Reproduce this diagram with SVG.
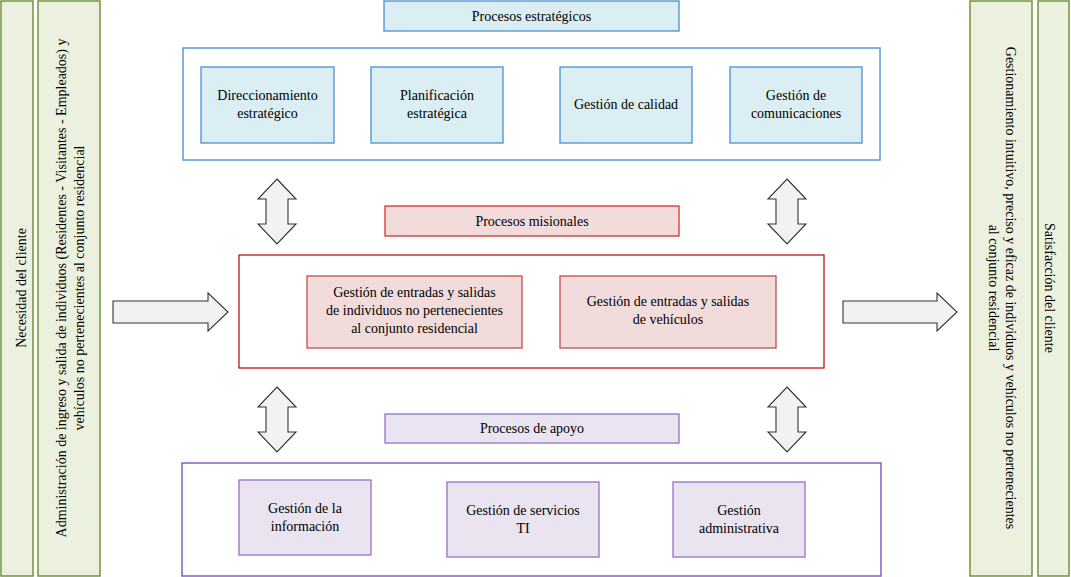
<svg xmlns="http://www.w3.org/2000/svg" width="1071" height="577" viewBox="0 0 1071 577">
<defs>
<style>
.t{font-family:"Liberation Serif",Tinos,"Times New Roman",Times,serif;font-size:14px;fill:#000;text-anchor:middle}
.g{fill:#EBF1DE;stroke:#76923C;stroke-width:1.5}
.bt{fill:#DAEEF3;stroke:#4A90D0;stroke-width:1.3}
.bo{fill:#fff;stroke:#5B9BD5;stroke-width:1.5}
.rt{fill:#F2DCDB;stroke:#C0504D;stroke-width:1.3}
.rti{fill:#F2DCDB;stroke:#D9302C;stroke-width:1.3}
.ro{fill:#fff;stroke:#C00000;stroke-width:1.2}
.pt{fill:#E9E4F0;stroke:#9A6FC8;stroke-width:1.3}
.po{fill:#fff;stroke:#8B5CC0;stroke-width:1.5}
.ar{fill:#F2F2F2;stroke:#333;stroke-width:1.1}
</style>
</defs>
<rect width="1071" height="577" fill="#fff"/>

<g id="necesidad">
<rect class="g" x="1" y="1" width="32" height="575"/>
<text class="t" transform="translate(26,288) rotate(-90)">Necesidad del cliente</text>
</g>
<g id="entrada">
<rect class="g" x="38" y="1" width="62" height="575"/>
<text class="t" transform="translate(66,288) rotate(-90)">Administración de ingreso y salida de individuos (Residentes - Visitantes - Empleados) y</text>
<text class="t" transform="translate(84,288) rotate(-90)">vehículos no pertenecientes al conjunto residencial</text>
</g>
<g id="salida">
<rect class="g" x="970" y="1" width="62" height="575"/>
<text class="t" transform="translate(1006,288) rotate(90)">Gestionamiento intuitivo, preciso y eficaz de individuos y vehículos no pertenecientes</text>
<text class="t" transform="translate(989,288) rotate(90)">al conjunto residencial</text>
</g>
<g id="satisfaccion">
<rect class="g" x="1038" y="1" width="31" height="575"/>
<text class="t" transform="translate(1045,288) rotate(90)">Satisfacción del cliente</text>
</g>

<g id="estrategicos">
<rect class="bt" x="384" y="1" width="295" height="30"/>
<text class="t" x="531.5" y="21">Procesos estratégicos</text>
<rect class="bo" x="183" y="48" width="697" height="112"/>
</g>
<g id="direccionamiento">
<rect class="bt" x="201" y="67" width="133" height="76"/>
<text class="t" x="267.5" y="100">Direccionamiento</text>
<text class="t" x="267.5" y="118">estratégico</text>
</g>
<g id="planificacion">
<rect class="bt" x="371" y="67" width="132" height="76"/>
<text class="t" x="437" y="100">Planificación</text>
<text class="t" x="437" y="118">estratégica</text>
</g>
<g id="calidad">
<rect class="bt" x="560" y="67" width="132" height="76"/>
<text class="t" x="626" y="109">Gestión de calidad</text>
</g>
<g id="comunicaciones">
<rect class="bt" x="730" y="67" width="132" height="76"/>
<text class="t" x="796" y="100">Gestión de</text>
<text class="t" x="796" y="118">comunicaciones</text>
</g>

<g id="misionales">
<rect class="rti" x="385" y="206" width="294" height="30"/>
<text class="t" x="532" y="226">Procesos misionales</text>
<rect class="ro" x="239" y="255" width="585" height="113"/>
</g>
<g id="individuos">
<rect class="rt" x="307" y="276" width="215" height="72"/>
<text class="t" x="414.5" y="297">Gestión de entradas y salidas</text>
<text class="t" x="414.5" y="315">de individuos no pertenecientes</text>
<text class="t" x="414.5" y="333">al conjunto residencial</text>
</g>
<g id="vehiculos">
<rect class="rt" x="560" y="276" width="216" height="72"/>
<text class="t" x="668" y="306">Gestión de entradas y salidas</text>
<text class="t" x="668" y="324">de vehículos</text>
</g>

<g id="apoyo">
<rect class="pt" x="385" y="414" width="294" height="29"/>
<text class="t" x="532" y="433">Procesos de apoyo</text>
<rect class="po" x="182" y="463" width="699" height="113"/>
</g>
<g id="informacion">
<rect class="pt" x="239" y="480" width="132" height="75"/>
<text class="t" x="305" y="513">Gestión de la</text>
<text class="t" x="305" y="531">información</text>
</g>
<g id="servicios">
<rect class="pt" x="447" y="482" width="152" height="75"/>
<text class="t" x="523" y="515">Gestión de servicios</text>
<text class="t" x="523" y="533">TI</text>
</g>
<g id="administrativa">
<rect class="pt" x="673" y="482" width="132" height="75"/>
<text class="t" x="739" y="515">Gestión</text>
<text class="t" x="739" y="533">administrativa</text>
</g>

<g id="connectors">
<path class="ar" d="M113,301 L208,301 L208,293 L228,312 L208,331 L208,323 L113,323 Z"/>
<path class="ar" d="M843,301 L937,301 L937,293 L957,312 L937,331 L937,323 L843,323 Z"/>
<path class="ar" d="M277,179 L296,199 L288,199 L288,224 L296,224 L277,244 L258,224 L266,224 L266,199 L258,199 Z"/>
<path class="ar" d="M787,179 L806,199 L798,199 L798,224 L806,224 L787,244 L768,224 L776,224 L776,199 L768,199 Z"/>
<path class="ar" d="M277,387 L296,407 L288,407 L288,432 L296,432 L277,452 L258,432 L266,432 L266,407 L258,407 Z"/>
<path class="ar" d="M787,387 L806,407 L798,407 L798,432 L806,432 L787,452 L768,432 L776,432 L776,407 L768,407 Z"/>
</g>
</svg>
